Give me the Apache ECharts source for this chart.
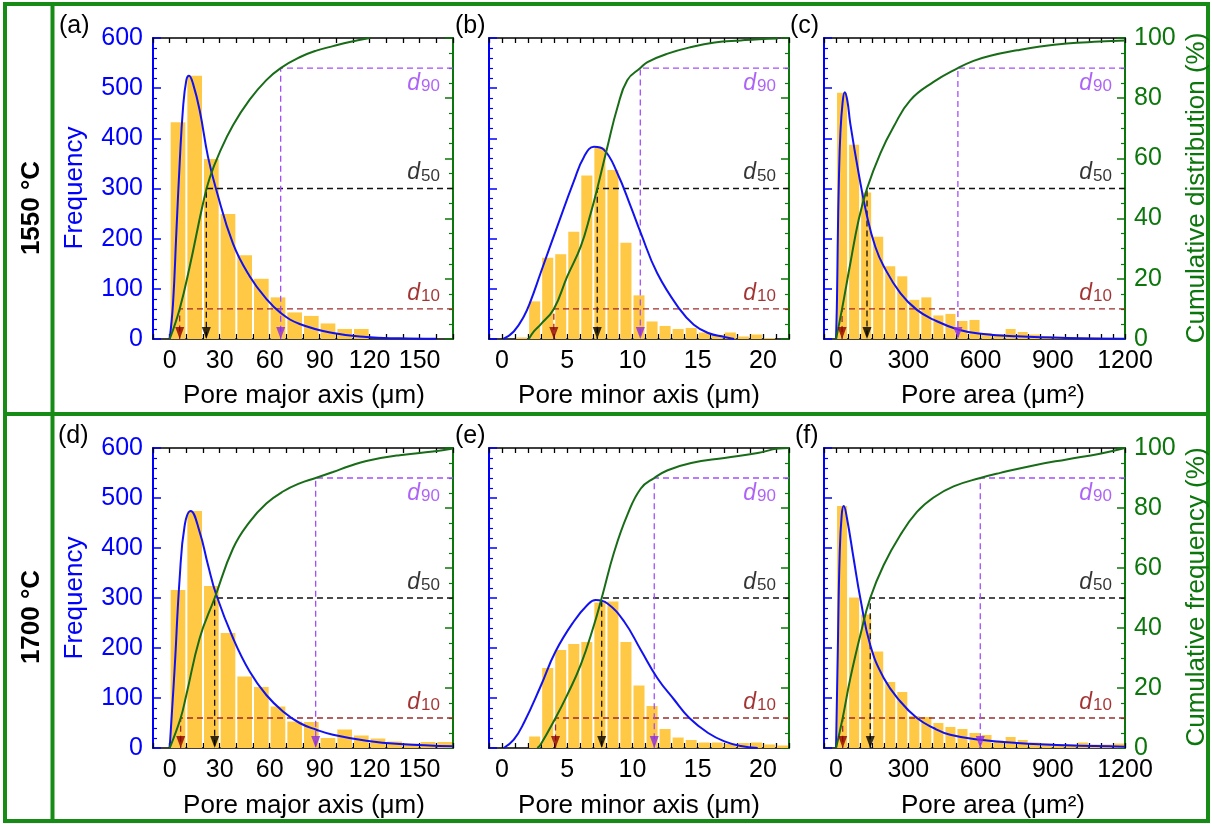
<!DOCTYPE html>
<html><head><meta charset="utf-8">
<script src="https://cdn.jsdelivr.net/npm/echarts@6/dist/echarts.min.js"></script>
<style>html,body{margin:0;padding:0;background:#fff}#c{width:1212px;height:824px}</style>
</head><body><div id="c"></div><script>
// ===================== DATA =====================
// (a) 1550 °C, pore major axis (µm)
const aBins = [0,10,20,30,40,50,60,70,80,90,100,110];
const aBinWidth = 10;
const aFreq = [432,525,359,249,167,120,83,53,46,31,20,20];
const aFitX = [0,2,4,6,8,10,11.6,14,18,23,28,38,48,58,66.6,78,98,118,138,160];
const aFitY = [0,70,211,350,460,516,525,509,456,363,297,190,125,80,52,30,12,4,1.3,0.3];
const aCumX = [0,6,12,20,24,30,38,48,58,66.6,78,88,98,108,120];
const aCumY = [0,10,24,45,53.5,62,71,79.5,86,90,93.6,95.8,97.3,98.7,100];
const aD = [6,22,66.6];

// (b) 1550 °C, pore minor axis (µm)
const bBins = [1,2,3,4,5,6,7,8,9,10,11,12,13,14,15,16,17,18,19,20];
const bBinWidth = 1;
const bFreq = [3,75,162,169,214,326,381,337,192,87,35,26,20,22,13,7,13,5,9,2];
const bFitX = [0.1,0.9,1.67,2.18,2.95,4.23,5.5,6.28,7.05,7.82,8.85,9.87,10.64,11.9,13.6,14.7,15.8,17.05,17.8];
const bFitY = [0,15,45,75,131,224,314,363,383,377,330,264,211,131,60,28.5,12,4,0];
const bCumX = [2.05,2.44,2.95,3.97,5.0,6.03,6.8,7.3,8.08,8.85,9.6,10.6,11.15,12.7,14.5,16.3,18.3,19.7,21.15];
const bCumY = [0,2.5,4.8,10,20.8,30.7,41.8,50,63.9,77,86,90,92,94.8,97,98.5,99.2,99.6,99.8];
const bD = [3.97,7.3,10.6];

// (c) 1550 °C, pore area (µm²)
const cBins = [0,50,100,150,200,250,300,350,400,450,500,550,600,650,700,750,800,850,900,950,1000,1050,1100,1150];
const cBinWidth = 50;
const cFreq = [491,387,292,204,145,125,78,83,47,50,36,38,12,10,20,14,9,6,5,4,3,3,2,2];
const cFitX = [0,4,7,12,18,27,36,47,59,94,129,163,198,267,336,405,509,612,751,958,1200];
const cFitY = [0,80,190,320,410,470,492,475,430,330,244,184,145,91.5,58,38.5,18.6,10,5.3,2,0.7];
const cCumX = [0,25,59,94,128.6,184,239,308,405,506,571,641,751,847,958,1096,1200];
const cCumY = [0,10,25,39.6,50,61.7,70.5,79.3,85.4,90,92.4,94.1,95.9,97.2,98.2,98.8,99.2];
const cD = [25,128.6,506];

// (d) 1700 °C, pore major axis (µm)
const dBins = [0,10,20,30,40,50,60,70,80,90,100,110,120,130,140,150,160];
const dBinWidth = 10;
const dFreq = [316,474,324,230,143,122,83,53,52,20,37,25,19,13,9,12,12];
const dFitX = [0,3,6,9,12.6,18,23,28,38,48,58,68,78,88,98,118,138,170];
const dFitY = [0,160,340,445,474,432,366,306,220,153,106,73,50,36.6,26.6,14.6,8,3.3];
const dCumX = [0,6.6,10,18,27,38,48,58,68,78,87.6,98,108,118,138,158,170];
const dCumY = [0,10,17.7,36.6,50,66.5,75.4,81.5,85.5,88.2,90,92,94,95.7,97.6,98.8,99.8];
const dD = [6.6,27,87.6];

// (e) 1700 °C, pore minor axis (µm)
const eBins = [2,3,4,5,6,7,8,9,10,11,12,13,14,15,16,17,18,19,20,21];
const eBinWidth = 1;
const eFreq = [23,160,196,208,212,291,293,212,125,84,38,21,16,11,11,8,10,11,7,5];
const eFitX = [0.13,0.9,1.67,2.95,4.1,5.5,6.54,7.18,8.08,9.36,10.64,11.9,13.2,14.36,15.8,17.05,18.3,19.6];
const eFitY = [0,16.6,50,123,193,253,286,296,289,253,196,140,96.5,60,30,13.3,4,0];
const eCumX = [2.7,2.95,4.1,5.0,6.03,7.05,7.64,8.6,9.6,10.64,11.67,12.7,14.5,17.05,19.6,21.15,22];
const eCumY = [0,1.1,10,17.7,27.7,41,50,65.4,77.6,86.5,90,92.6,95,96.7,98.3,99.8,100];
const eD = [4.1,7.64,11.67];

// (f) 1700 °C, pore area (µm²)
const fBins = [0,50,100,150,200,250,300,350,400,450,500,550,600,650,700,750,800,850,900,950,1000,1050,1100,1150];
const fBinWidth = 50;
const fFreq = [484,301,267,193,132,112,64,62,50,42,38,30,26,15,22,16,11,9,8,7,11,7,7,9];
const fFitX = [0,7,15,23.5,32,45.6,73,101,142,198,267,336,405,474,599,751,958,1200];
const fFitY = [0,186,386,466,484,459,379,299,206,140,93,60,40,26.6,16.6,10,5.3,2.7];
const fCumX = [0,27.6,59.4,101,142,198,267,336,405,488,599,682,820,958,1096,1200];
const fCumY = [0,10,23.3,37.7,50,61,71,78.7,83.5,87.2,90,91.7,94.2,96.2,98.1,100];
const fD = [27.6,142,599];

const dLevels = [10, 50, 90];          // percentile levels (%)
const dSubs = ['10', '50', '90'];
const panelTags = ['(a)','(b)','(c)','(d)','(e)','(f)'];
const xNames = ['Pore major axis (μm)','Pore minor axis (μm)','Pore area (μm²)'];
const rowNames = ['1550 °C','1700 °C'];
const rightNames = ['Cumulative distribution (%)','Cumulative frequency (%)'];

// ===================== STYLE / LAYOUT =====================
const FONT = '"Liberation Sans", Arial, Helvetica, sans-serif';
const BLUE = '#0000ff', FIT = '#1212f0', GREENAX = '#0b760b', CUM = '#186c18', BAR = '#ffc946';
const FRAME = '#168c16';
const DLINE = ['#a02a2a', '#111111', '#a44dff'];
const DARROW = ['#8b0000', '#000000', '#8a2be2'];
const DTEXT = ['#8b0000', '#000000', '#9a3cf5'];

const cols = [[153,300],[489,300],[824,301]];
const rows = [[38,301],[448,300]];
const axisCfg = [
  {min:-10, max:170, tick:10, every:30},
  {min:-1, max:22, tick:1, every:5},
  {min:-50, max:1200, tick:50, every:300}
];

const panels = [
  {bins:aBins,w:aBinWidth,freq:aFreq,fx:aFitX,fy:aFitY,cx:aCumX,cy:aCumY,d:aD},
  {bins:bBins,w:bBinWidth,freq:bFreq,fx:bFitX,fy:bFitY,cx:bCumX,cy:bCumY,d:bD},
  {bins:cBins,w:cBinWidth,freq:cFreq,fx:cFitX,fy:cFitY,cx:cCumX,cy:cCumY,d:cD},
  {bins:dBins,w:dBinWidth,freq:dFreq,fx:dFitX,fy:dFitY,cx:dCumX,cy:dCumY,d:dD},
  {bins:eBins,w:eBinWidth,freq:eFreq,fx:eFitX,fy:eFitY,cx:eCumX,cy:eCumY,d:eD},
  {bins:fBins,w:fBinWidth,freq:fFreq,fx:fFitX,fy:fFitY,cx:fCumX,cy:fCumY,d:fD}
];

const option = {animation:false, backgroundColor:'#ffffff', grid:[], xAxis:[], yAxis:[], series:[], graphic:[]};

panels.forEach((p, i) => {
  const col = i % 3, row = Math.floor(i / 3);
  const ax = axisCfg[col];
  option.grid.push({left:cols[col][0], top:rows[row][0], width:cols[col][1], height:rows[row][1]});
  const xBase = {gridIndex:i, type:'value', min:ax.min, max:ax.max, interval:ax.tick,
    splitLine:{show:false},
    axisLine:{onZero:false, lineStyle:{color:'#000', width:1.5}},
    axisTick:{inside:true, length:5, lineStyle:{color:'#000', width:1.3}}};
  option.xAxis.push(Object.assign({}, xBase, {position:'bottom',
    axisLabel:{fontSize:25, fontFamily:FONT, color:'#000', margin:10,
      formatter: v => (v >= 0 && Math.abs(v % ax.every) < 1e-6) ? String(v) : ''}}));
  option.xAxis.push(Object.assign({}, xBase, {position:'top', axisLabel:{show:false}}));
  option.yAxis.push({gridIndex:i, type:'value', position:'left', min:0, max:600, interval:100,
    splitLine:{show:false}, minorSplitLine:{show:false},
    axisLine:{show:true, onZero:false, lineStyle:{color:BLUE, width:2}},
    axisTick:{show:true, inside:true, length:8, lineStyle:{color:BLUE, width:1.5}},
    minorTick:{show:true, splitNumber:5, length:4, lineStyle:{color:BLUE, width:1.2}},
    axisLabel:{show: col === 0, color:BLUE, fontSize:25, fontFamily:FONT, margin:10}});
  option.yAxis.push({gridIndex:i, type:'value', position:'right', min:0, max:100, interval:20,
    splitLine:{show:false}, minorSplitLine:{show:false},
    axisLine:{show:true, onZero:false, lineStyle:{color:GREENAX, width:2}},
    axisTick:{show:true, inside:true, length:8, lineStyle:{color:GREENAX, width:1.5}},
    minorTick:{show:true, splitNumber:4, length:4, lineStyle:{color:GREENAX, width:1.2}},
    axisLabel:{show: col === 2, color:GREENAX, fontSize:25, fontFamily:FONT, margin:9}});

  const xi = 2 * i, yL = 2 * i, yR = 2 * i + 1;
  // histogram bars
  option.series.push({type:'custom', xAxisIndex:xi, yAxisIndex:yL, clip:true, z:1, silent:true,
    data: p.bins.map((b, k) => [b, b + p.w, p.freq[k]]),
    encode:{x:[0,1], y:2},
    renderItem: (params, api) => {
      const tl = api.coord([api.value(0), api.value(2)]);
      const br = api.coord([api.value(1), 0]);
      return {type:'rect', shape:{x:tl[0] + 1, y:tl[1], width:Math.max(0, br[0] - tl[0] - 2), height:br[1] - tl[1]},
        style:{fill:BAR}};
    }});
  // d10/d50/d90 guides
  p.d.forEach((dv, k) => {
    const lvl = dLevels[k];
    option.series.push({type:'line', xAxisIndex:xi, yAxisIndex:yR, z:3, silent:true,
      data:[[ax.max, lvl],[dv, lvl],[dv, 0]], symbol:'none', showSymbol:false,
      lineStyle:{color:DLINE[k], width:1.3, type:[6,4]}});
    option.series.push({type:'scatter', xAxisIndex:xi, yAxisIndex:yR, z:7, silent:true,
      data:[[dv, 0]], symbol:'triangle', symbolRotate:180, symbolSize:[9,12], symbolOffset:[0,-6],
      itemStyle:{color:DARROW[k]}});
    option.series.push({type:'scatter', xAxisIndex:xi, yAxisIndex:yR, z:7, silent:true,
      data:[[ax.max, lvl]], symbolSize:0,
      label:{show:true, formatter:'{d|d}{s|' + dSubs[k] + '}', position:[-13, k === 2 ? 4 : -4],
        align:'right', verticalAlign: k === 2 ? 'top' : 'bottom',
        rich:{
          d:{fontStyle:'italic', fontSize:23, fontFamily:FONT, color:DTEXT[k], lineHeight:23, verticalAlign:'top'},
          s:{fontSize:17, fontFamily:FONT, color:DTEXT[k], lineHeight:17, padding:[11,0,0,1], verticalAlign:'bottom'}
        }}});
  });
  // fitted distribution
  option.series.push({type:'line', xAxisIndex:xi, yAxisIndex:yL, z:5, silent:true,
    data: p.fx.map((x, k) => [x, p.fy[k]]), smooth:0.45,
    symbol:'none', showSymbol:false, lineStyle:{color:FIT, width:2}});
  // cumulative curve
  option.series.push({type:'line', xAxisIndex:xi, yAxisIndex:yR, z:6, silent:true,
    data: p.cx.map((x, k) => [x, p.cy[k]]), smooth:0.45,
    symbol:'none', showSymbol:false, lineStyle:{color:CUM, width:2}});
});

// ---------- texts & frame ----------
function txt(x, y, text, font, fill, rot, align) {
  return {type:'text', x:x, y:y, rotation:rot || 0, silent:true, z:10,
    style:{text:text, font:font, fill:fill, align:align || 'center', verticalAlign:'middle',
      textAlign:align || 'center', textVerticalAlign:'middle'}};
}
const F25 = '25px ' + FONT, F26 = '26px ' + FONT, FB = 'bold 26px ' + FONT;
const tagPos = [[59,26],[455,26],[790,26],[58,436],[455,436],[795,436]];
panelTags.forEach((t, i) => option.graphic.push(txt(tagPos[i][0], tagPos[i][1], t, F25, '#000', 0, 'left')));
const nameX = [304, 639, 993];
const nameY = [396, 806];
[0,1].forEach(r => {
  xNames.forEach((n, c) => option.graphic.push(txt(nameX[c], nameY[r], n, F26, '#000')));
  option.graphic.push(txt(75, r === 0 ? 188 : 598, 'Frequency', F26, BLUE, Math.PI / 2));
  option.graphic.push(txt(1197, r === 0 ? 188 : 597, rightNames[r], F26, GREENAX, Math.PI / 2));
  option.graphic.push(txt(32, r === 0 ? 208 : 617, rowNames[r], FB, '#000', Math.PI / 2));
});
option.graphic.push({type:'rect', silent:true, z:9, shape:{x:5, y:4, width:1203, height:817},
  style:{fill:'none', stroke:FRAME, lineWidth:4}});
option.graphic.push({type:'line', silent:true, z:9, shape:{x1:52.5, y1:4, x2:52.5, y2:821},
  style:{stroke:FRAME, lineWidth:4}});
option.graphic.push({type:'line', silent:true, z:9, shape:{x1:5, y1:414, x2:1208, y2:414},
  style:{stroke:FRAME, lineWidth:4}});

const chart = echarts.init(document.getElementById('c'), null, {renderer:'canvas'});
chart.setOption(option);
</script></body></html>
